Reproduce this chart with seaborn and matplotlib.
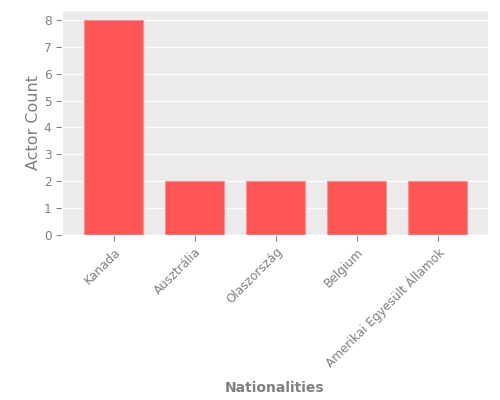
import matplotlib
matplotlib.use('Agg')
import matplotlib.pyplot as plt
import seaborn as sns
import pandas as pd

# data
nationalities = ['Kanada', 'Ausztrália', 'Olaszország', 'Belgium', 'Amerikai Egyesült Államok']
actor_counts = [8, 2, 2, 2, 2]

plt.style.use('ggplot')
plt.rcParams['font.family'] = ['DejaVu Sans']

df = pd.DataFrame({'nationality': nationalities, 'count': actor_counts})

fig = plt.figure(figsize=(5, 4), dpi=100)
ax = fig.add_axes([0.124, 0.4125, 0.852, 0.5625])
ax.set_facecolor('#ebebeb')

sns.barplot(data=df, x='nationality', y='count', color='#ff5555', saturation=1,
            width=0.73, edgecolor='#f59090', linewidth=0.8, ax=ax)

ax.set_xlim(-0.64, 4.62)
ax.set_ylim(0, 8.37)
ax.set_yticks(range(0, 9))
ax.grid(axis='x', visible=False)
ax.grid(axis='y', color='white', linewidth=1)
ax.set_axisbelow(True)

ax.set_xlabel('Nationalities', fontsize=10, color='gray', fontweight='bold', labelpad=8)
ax.set_ylabel('Actor Count', fontsize=11.5, color='gray', labelpad=2)
ax.tick_params(axis='both', colors='gray', labelsize=8.7, length=4)
plt.setp(ax.get_xticklabels(), rotation=45, ha='right', rotation_mode='anchor')

fig.savefig('out.png', dpi=100)
